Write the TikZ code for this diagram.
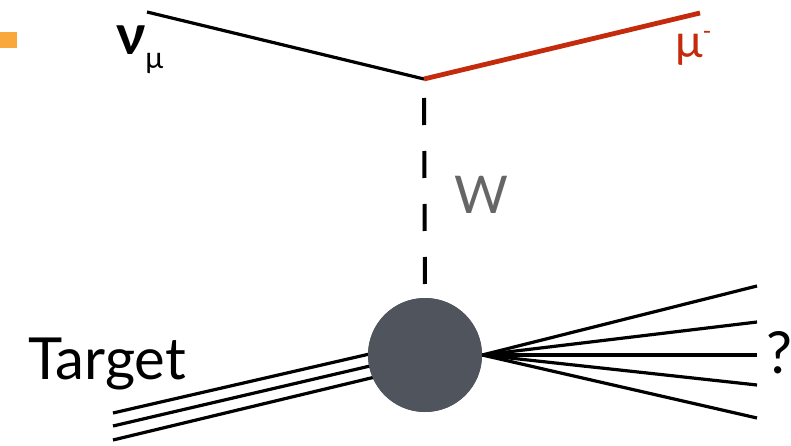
\documentclass[tikz,border=0pt]{standalone}
\usepackage{fontspec}
\setmainfont{Lato}
\definecolor{muonred}{HTML}{C42A0C}
\definecolor{blobgray}{HTML}{50545D}
\definecolor{wgray}{HTML}{666666}
\definecolor{tab}{HTML}{F9A83B}
\begin{document}
\begin{tikzpicture}[x=1pt,y=-1pt,
  fermion/.style={line width=3.2pt},
  muonline/.style={line width=4.8pt,color=muonred},
  boson/.style={line width=4pt,dash pattern=on 27pt off 26pt,dash phase=34pt},
  thinline/.style={line width=3.2pt},
  lbl/.style={inner sep=0pt,anchor=base west}]
\useasboundingbox (0,0) rectangle (791,446);
\fill[tab] (0,32) rectangle (17,48);
\coordinate (nustart) at (147,12);
\coordinate (vtx) at (424,79);
\coordinate (muend) at (700,13);
\draw[fermion] (nustart) -- (vtx);
\draw[muonline] (vtx) -- (muend);
\node[circle,fill=blobgray,minimum size=114pt,inner sep=0pt] (blob) at (425,355) {};
\draw[boson] (vtx) -- (blob.north);
\coordinate (t1) at (113,413);
\coordinate (t2) at (113,426);
\coordinate (t3) at (113,440);
\coordinate (b1) at (400,347);
\coordinate (b2) at (400,359);
\coordinate (b3) at (400,371);
\draw[thinline] (t1) -- (b1);
\draw[thinline] (t2) -- (b2);
\draw[thinline] (t3) -- (b3);
\node[circle,fill=blobgray,minimum size=114pt,inner sep=0pt] at (blob.center) {};
\coordinate (f1) at (757,286);
\coordinate (f2) at (757,322);
\coordinate (f3) at (757,355);
\coordinate (f4) at (757,385);
\coordinate (f5) at (757,418);
\foreach \f in {f1,f2,f3,f4,f5} \draw[thinline] (blob.east) -- (\f);
\node[lbl] (nu) at (116,55) {\fontsize{56}{56}\selectfont\bfseries ν\raisebox{-14pt}{\fontsize{30}{30}\selectfont\mdseries μ}};
\node[lbl,text=muonred] (mu) at (675,58) {\fontsize{46}{46}\selectfont μ\raisebox{18pt}{\fontsize{24}{24}\selectfont -}};
\node[lbl,text=wgray] (W) at (454,213) {\fontsize{52}{52}\selectfont W};
\node[lbl] (target) at (28,379) {\fontsize{58}{58}\selectfont Target};
\node[lbl] (q) at (766,373) {\fontsize{58}{58}\selectfont ?};
\end{tikzpicture}
\end{document}
